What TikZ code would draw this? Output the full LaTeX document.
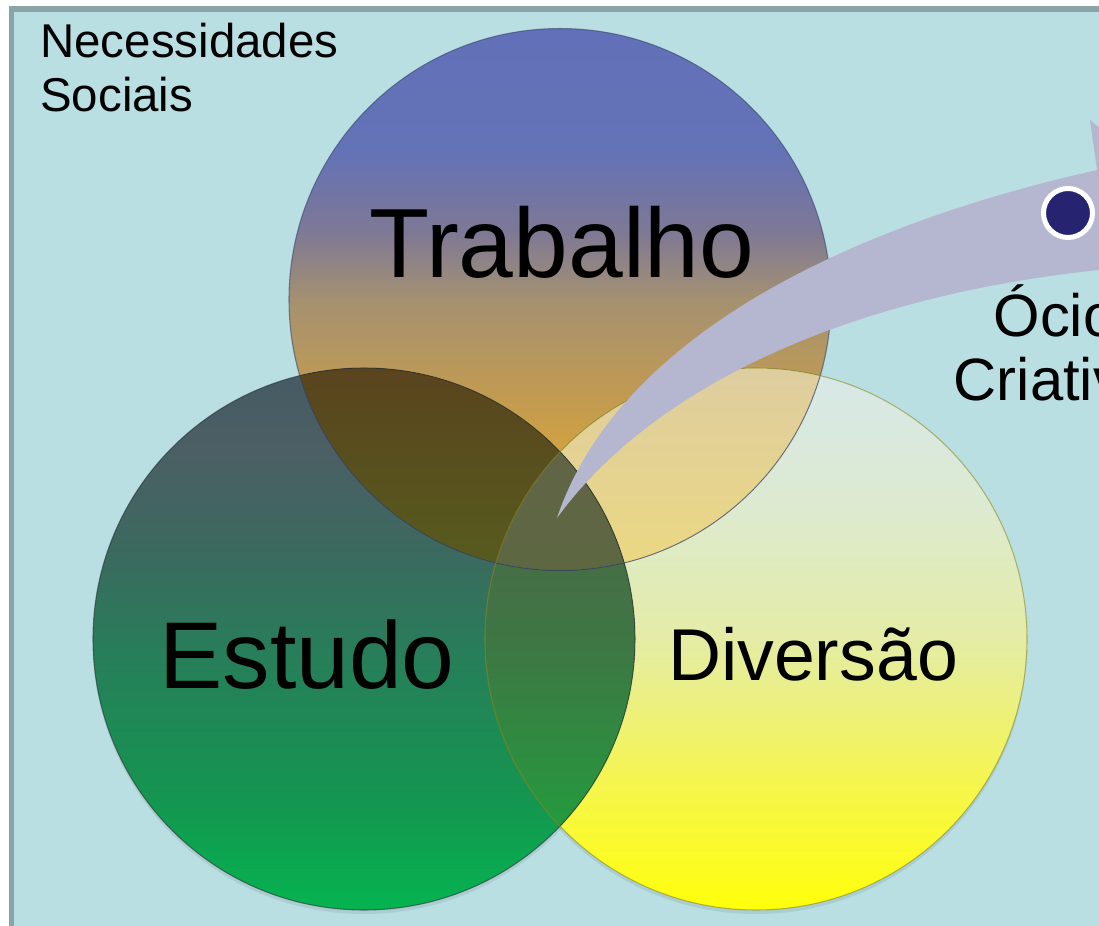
\documentclass[tikz,border=0pt]{standalone}
\usepackage{fontspec}
\setmainfont{Liberation Sans}
\usetikzlibrary{positioning}

\definecolor{bgCyan}{RGB}{185,223,227}
\definecolor{frameGray}{RGB}{138,165,168}
\definecolor{arrowLilac}{RGB}{181,182,208}
\definecolor{dotBlue}{RGB}{38,36,112}
% overlap colours
\definecolor{teTop}{RGB}{90,68,30}
\definecolor{teMid}{RGB}{85,100,30}
\definecolor{tdTop}{RGB}{222,205,160}
\definecolor{tdMid}{RGB}{240,220,120}
\definecolor{edTop}{RGB}{90,92,75}
\definecolor{edMid}{RGB}{62,118,68}
\definecolor{edBot}{RGB}{25,170,60}
\definecolor{tedTop}{RGB}{100,98,75}
\definecolor{tedMid}{RGB}{90,105,62}
\definecolor{trabRim}{RGB}{60,68,110}
\definecolor{estuRim}{RGB}{40,50,50}
\definecolor{divRim}{RGB}{140,140,30}

% circle shadings (25bp = bottom of circle, 75bp = top)
\pgfdeclareverticalshading{trabShade}{100bp}{%
    rgb(0bp)=(0.910,0.698,0.176); rgb(25bp)=(0.910,0.698,0.176);
    rgb(31.5bp)=(0.863,0.659,0.196); rgb(40.7bp)=(0.765,0.608,0.314);
    rgb(49.9bp)=(0.647,0.569,0.439); rgb(56.4bp)=(0.490,0.471,0.588);
    rgb(63.7bp)=(0.392,0.447,0.714); rgb(75bp)=(0.384,0.439,0.725);
    rgb(100bp)=(0.384,0.439,0.725)}
\pgfdeclareverticalshading{estuShade}{100bp}{%
    rgb(0bp)=(0.020,0.706,0.314); rgb(25bp)=(0.020,0.706,0.314);
    rgb(35.1bp)=(0.078,0.588,0.314); rgb(49bp)=(0.157,0.490,0.353);
    rgb(58.2bp)=(0.235,0.412,0.373); rgb(67.4bp)=(0.294,0.373,0.392);
    rgb(75bp)=(0.275,0.353,0.392); rgb(100bp)=(0.275,0.353,0.392)}
\pgfdeclareverticalshading{divShade}{100bp}{%
    rgb(0bp)=(1,1,0.04); rgb(25bp)=(1,1,0.04);
    rgb(37bp)=(0.961,0.961,0.314); rgb(49.9bp)=(0.894,0.925,0.647);
    rgb(62.8bp)=(0.863,0.918,0.824); rgb(75bp)=(0.843,0.910,0.910);
    rgb(100bp)=(0.843,0.910,0.910)}

\begin{document}
\begin{tikzpicture}[x=0.02cm,y=-0.02cm,
    circEdge/.style={line width=0.6pt,draw opacity=0.6},
    ]
    %
    % Independent parameters
    \def\circR{271}                                 % circle radius
    \def\sideL{392}                                 % distance between centres
    \def\baseX{364}                                 % centre of lower left circle
    \def\baseY{639}
    %
    % Dependent parameters
    \pgfmathsetmacro\rowH{\sideL*sin(60)}           % height of centre triangle
    %
    \useasboundingbox (0,0) rectangle (1099,926);
    \clip (0,0) rectangle (1099,926);
    %
    % frame
    \fill[bgCyan] (11.5,9) rectangle (1130,940);
    \draw[frameGray,line width=2.85pt] (11.5,9) rectangle (1130,940);
    %
    % circle centres
    \coordinate (estu) at (\baseX,\baseY);
    \coordinate (div) at (\baseX+\sideL,\baseY);
    \coordinate (trab) at (\baseX+\sideL/2,\baseY-\rowH);
    %
    % shadows
    \foreach \c in {trab,estu,div}
        \fill[black,opacity=.08] ([shift={(0,4)}]\c) circle[radius=\circR];
    %
    % circles
    \shade[shading=trabShade] (trab) circle[radius=\circR];
    \shade[shading=estuShade] (estu) circle[radius=\circR];
    \shade[shading=divShade] (div) circle[radius=\circR];
    %
    % overlaps
    \begin{scope}
        \clip (trab) circle[radius=\circR];
        \fill[top color=teTop,bottom color=teMid,middle color=teMid]
            (estu) circle[radius=\circR];
        \fill[top color=tdTop,bottom color=tdMid,middle color=tdMid]
            (div) circle[radius=\circR];
    \end{scope}
    \begin{scope}
        \clip (estu) circle[radius=\circR];
        \fill[top color=edTop,bottom color=edBot,middle color=edMid]
            (div) circle[radius=\circR];
        \clip (trab) circle[radius=\circR];
        \fill[top color=tedTop,bottom color=tedMid,middle color=tedMid]
            (div) circle[radius=\circR];
    \end{scope}
    %
    % rims
    \draw[circEdge,draw=trabRim] (trab) circle[radius=\circR];
    \draw[circEdge,draw=estuRim] (estu) circle[radius=\circR];
    \draw[circEdge,draw=divRim] (div) circle[radius=\circR];
    %
    % write labels
    \foreach
    [
        var=\lx,
        var=\ly,
        var=\lsize,
        var=\lname,
        var=\circLabel,
    ]
    in {562/277/56/trabLabel/Trabalho,307/688/54/estuLabel/Estudo,813/680/41.8/divLabel/Diversão}%
    {
     \node[anchor=base,inner sep=0pt,font=\fontsize{\lsize}{\lsize}\selectfont]
        (\lname) at (\lx,\ly) {\circLabel};
    }
    \node[anchor=base west,align=left,inner sep=0pt,font=\fontsize{27}{31.3}\selectfont]
        (necLabel) at (40,112) {Necessidades\\Sociais};
    %
    % arrow
    \coordinate (arrowTip) at (557,518);
    \fill[arrowLilac] (arrowTip) .. controls (615,345) and (830,230) .. (1097,170)
        -- (1090,120) -- (1186,202) -- (1130,318) -- (1119,268)
        .. controls (845,293) and (650,390) .. (arrowTip) -- cycle;
    %
    % bullet and text
    \node[circle,inner sep=0pt,minimum size=0.98cm,fill=dotBlue,draw=white,line width=2.85pt]
        (ocioDot) at (1068,213) {};
    \node[anchor=base,align=center,inner sep=0pt,font=\fontsize{34}{36}\selectfont]
        (ocioLabel) at (1055,400) {Ócio\\Criativo};
\end{tikzpicture}
\end{document}
